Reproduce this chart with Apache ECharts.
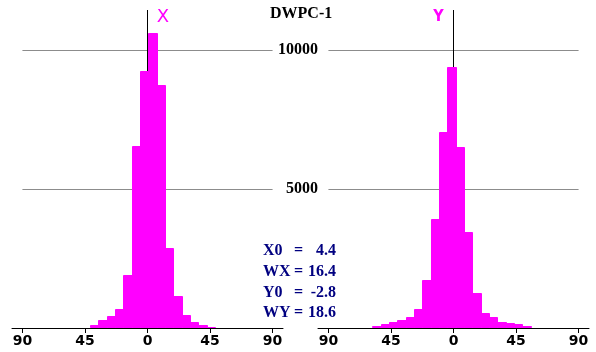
<!DOCTYPE html>
<html>
<head>
<meta charset="utf-8">
<script src="https://cdn.jsdelivr.net/npm/echarts@6/dist/echarts.min.js"></script>
<style>
  html, body { margin: 0; padding: 0; background: #fff; }
  #chart { width: 596px; height: 352px; }
</style>
</head>
<body>
<div id="chart"></div>
<script>
// histogram counts, bin width 6
const binWidth = 6;
const xBinStart = -41.5;
const xCounts = [95, 275, 445, 685, 1910, 6560, 9245, 10600, 8750, 2866, 1140, 480, 228, 95, 47];
const yBinStart = -58.4;
const yCounts = [60, 144, 205, 302, 396, 673, 1720, 3910, 7050, 9400, 6500, 3453, 1250, 540, 396, 230, 180, 144, 60];

const xTicks = [-90, -45, 0, 45, 90];
const yTicks = [5000, 10000];
const panelNames = ["X", "Y"];
const title = "DWPC-1";
const statLabels = ["X0", "WX", "Y0", "WY"];
const statValues = [4.4, 16.4, -2.8, 18.6];

const magenta = "#ff00ff";
const serif = "'Liberation Serif', 'Times New Roman', serif";

function toBins(start, counts) {
  return counts.map((c, i) => [start + i * binWidth, start + (i + 1) * binWidth, c]);
}

function renderBar(params, api) {
  const p0 = api.coord([api.value(0), 0]);
  const p1 = api.coord([api.value(1), api.value(2)]);
  const x0 = Math.round(p0[0]), x1 = Math.round(p1[0]);
  const yTop = Math.round(p1[1]), yBase = Math.round(p0[1]);
  return {
    type: "rect",
    shape: { x: x0 + 0.5, y: yTop + 0.5, width: x1 - x0, height: yBase - yTop - 1 },
    style: { fill: magenta, stroke: magenta, lineWidth: 1 }
  };
}

function guideSeries(idx) {
  const hLines = yTicks.map(v => [
    { coord: [-90, v], lineStyle: { color: "#8c8c8c", width: 1, type: "solid" } },
    { coord: [90, v] }
  ]);
  return {
    type: "line",
    xAxisIndex: idx,
    yAxisIndex: idx,
    data: [],
    z: 1,
    markLine: {
      silent: true,
      z: 1,
      symbol: "none",
      label: { show: false },
      animation: false,
      data: hLines.concat([[
        { coord: [0, 0], lineStyle: { color: "#000", width: 1, type: "solid" } },
        { coord: [0, 11440] }
      ]])
    }
  };
}

const chartDom = document.getElementById("chart");
const myChart = echarts.init(chartDom);

const xAxisBase = {
  type: "value",
  min: -97.5,
  max: 97.5,
  splitLine: { show: false },
  axisLine: { show: true, onZero: false, lineStyle: { color: "#000", width: 1 } },
  axisTick: { show: true, length: 5, customValues: xTicks, lineStyle: { color: "#000" } },
  axisLabel: {
    customValues: xTicks,
    margin: 6,
    color: "#000",
    fontFamily: "DejaVu Sans",
    fontWeight: "bold",
    fontSize: 14,
    formatter: v => String(Math.abs(v))
  }
};

const yAxisBase = {
  type: "value",
  min: 0,
  max: 11440,
  interval: 5000,
  splitLine: { show: false },
  axisLine: { show: false },
  axisTick: { show: false }
};

const barSeries = (idx, data) => ({
  type: "custom",
  xAxisIndex: idx,
  yAxisIndex: idx,
  z: 10,
  renderItem: renderBar,
  encode: { x: [0, 1], y: 2 },
  data: data
});

let option = {
  animation: false,
  grid: [
    { left: 12, width: 271, top: 10, height: 318 },
    { left: 318, width: 271, top: 10, height: 318 }
  ],
  xAxis: [
    { ...xAxisBase, gridIndex: 0 },
    { ...xAxisBase, gridIndex: 1 }
  ],
  yAxis: [
    { ...yAxisBase, gridIndex: 0, axisLabel: { show: false } },
    {
      ...yAxisBase,
      gridIndex: 1,
      axisLabel: {
        customValues: yTicks,
        margin: 0,
        color: "#000",
        fontFamily: serif,
        fontWeight: "bold",
        fontSize: 16,
        formatter: v => String(v)
      }
    }
  ],
  graphic: [
    {
      type: "text", left: 270, top: 6,
      style: { text: title, font: "bold 16px " + serif, fill: "#000" }
    },
    {
      type: "text", x: 163, y: 17,
      style: { text: panelNames[0], font: "18px 'DejaVu Sans', sans-serif", fill: magenta, align: "center", verticalAlign: "middle" }
    },
    {
      type: "text", x: 438.5, y: 17,
      style: { text: panelNames[1], font: "bold 16px 'DejaVu Sans Condensed', 'Liberation Sans Narrow', sans-serif", fill: magenta, align: "center", verticalAlign: "middle" }
    }
  ].concat(statLabels.flatMap((lab, i) => {
    const y = 251 + i * 20.7;
    const s = { font: "bold 16px " + serif, fill: "#000080", verticalAlign: "middle" };
    return [
      { type: "text", x: 263, y: y, style: { ...s, text: lab, align: "left" } },
      { type: "text", x: 298.5, y: y, style: { ...s, text: "=", align: "center" } },
      { type: "text", x: 336, y: y, style: { ...s, text: statValues[i].toFixed(1), align: "right" } }
    ];
  })),
  series: [
    guideSeries(0),
    guideSeries(1),
    barSeries(0, toBins(xBinStart, xCounts)),
    barSeries(1, toBins(yBinStart, yCounts))
  ]
};

myChart.setOption(option);
</script>
</body>
</html>
